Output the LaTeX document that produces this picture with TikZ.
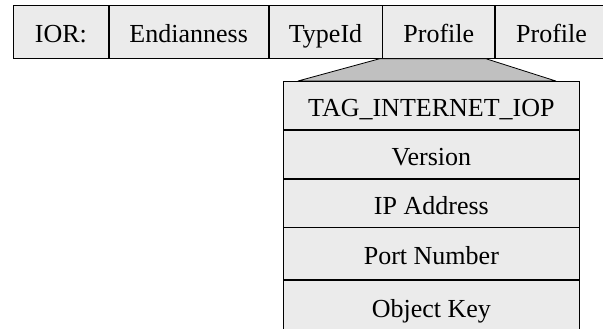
\documentclass[tikz,border=0pt]{standalone}
\usepackage{fontspec}
\setmainfont{Liberation Serif}
\usetikzlibrary{positioning,calc}
\definecolor{cellgray}{RGB}{235,235,235}
\definecolor{wedgegray}{RGB}{192,192,192}
\tikzstyle{field} = [rectangle, draw=black, fill=cellgray, line width=0.8pt, minimum height=53pt, inner sep=0pt, text height=22pt, text depth=0pt, text centered, font=\fontsize{26}{30}\selectfont]
\tikzstyle{row} = [field, minimum width=296pt, minimum height=48pt]
\tikzstyle{wedge} = [draw=black, fill=wedgegray, line width=0.8pt, line join=round]

\begin{document}
\begin{tikzpicture}[x=1pt,y=-1pt]
\useasboundingbox (0,0) rectangle (603,329);
\node (ior) [field, minimum width=95pt, anchor=north west] at (13,5) {IOR:};
\node (endian) [field, minimum width=159pt, right=0pt of ior] {Endianness};
\node (typeid) [field, minimum width=113pt, right=0pt of endian] {TypeId};
\node (prof) [field, minimum width=112pt, right=0pt of typeid] {Profile};
\node (profb) [field, minimum width=112pt, right=0pt of prof] {Profile};

\node (tag) [row, anchor=north west] at (283,81) {TAG\_INTERNET\_IOP};
\node (version) [row, below=0pt of tag] {Version};
\node (ipaddr) [row, below=0pt of version] {IP Address};
\node (port) [row, minimum height=52pt, below=0pt of ipaddr] {Port Number};
\node (objkey) [row, minimum height=52pt, below=0pt of port] {Object Key};

% expansion of the first profile
\draw [wedge] ($(prof.south west)+(-3,0)$) -- ($(prof.south east)+(-9,0)$)
  -- ($(tag.north east)+(-24,0)$) -- ($(tag.north west)+(15,0)$) -- cycle;
\end{tikzpicture}
\end{document}
